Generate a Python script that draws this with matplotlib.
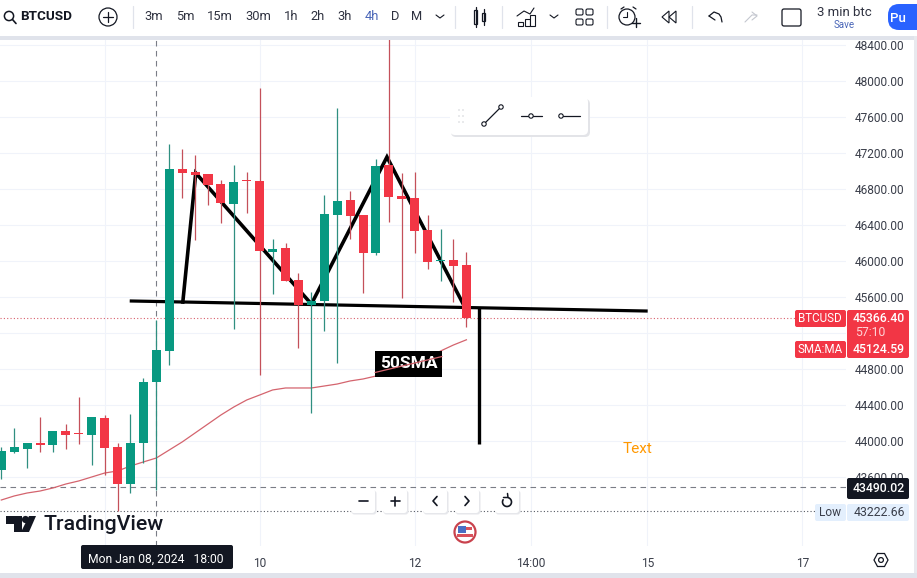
import matplotlib
matplotlib.use("Agg")
import matplotlib.pyplot as plt
from matplotlib.patches import Rectangle, FancyBboxPatch, Circle, Polygon
import numpy as np

plt.rcParams['font.family'] = ['Roboto', 'DejaVu Sans']

bar_index = list(range(-20, 17))
opens = [43678,43878,43911,43978,43956,44111,44089,44067,44256,43933,43522,43978,44656,45000,47022,46989,46967,46856,46633,46900,46889,46100,46144,45789,45511,45556,46511,46678,46511,46089,47067,46722,46700,46344,46000,46011,45956]
highs = [43933,44144,43978,44267,44111,44189,44489,44267,44289,43978,44300,44700,45344,47300,47244,47178,46967,46900,47067,46989,47922,46244,46200,45867,45656,46733,47700,46778,46511,47133,48470,46978,46989,46511,46356,46244,46100]
lows = [43578,43867,43700,43878,43878,43911,43967,43733,43622,43222.66,43422,43756,43456,44844,46700,46233,46622,46422,45244,46533,44733,45633,45778,45033,44311,45222,44867,46244,45644,46067,46433,45589,46089,45911,45778,45544,45267]
closes = [43889,43933,43978,43956,44111,44067,44078,44267,43922,43522,43978,44656,45011,47022,46978,46956,46844,46644,46878,46889,46111,46133,45778,45511,45556,46522,46667,46500,46089,47056,46711,46689,46333,45989,46011,45944,45366.40]
sma = [43344,43389,43422,43444,43478,43522,43556,43600,43644,43667,43722,43767,43811,43900,43989,44089,44189,44289,44378,44456,44511,44567,44589,44589,44589,44611,44633,44667,44689,44722,44767,44811,44856,44922,45000,45067,45124.59]

neck_x = [-10.06, 30.03]
neck_y = [45556, 45444]
zig_x = [-5.95, -4.95, 4.0, 9.85, 15.75]
zig_y = [45544, 46978, 45522, 47156, 45522]
target_x = [16.95, 16.95]
target_y = [45478, 43967]

price_ticks = list(range(43600, 48401, 400))
price_labels = ["" if p == 45200 else f"{p}.00" for p in price_ticks]
time_ticks = [-12, 0, 12, 21, 30, 42]
time_labels = ["", "10", "12", "14:00", "15", "17"]
last_price = 45366.40
cross_price = 43490.02
cross_bar = -8
low_price = 43222.66

W, H = 917, 578
fig = plt.figure(figsize=(W/100, H/100), dpi=100, facecolor='white')
L, T, R, B = 0, 40, 846, 546
ax = fig.add_axes([L/W, 1-B/H, (R-L)/W, (B-T)/H], facecolor='white')
ax.set_xlim(-20.1, 45.38)
ax.set_ylim(42833, 48456)
for s in ax.spines.values():
    s.set_visible(False)
ax.yaxis.tick_right()
ax.set_yticks(price_ticks, price_labels)
ax.set_xticks(time_ticks, time_labels)
ax.tick_params(axis='y', length=0, pad=6.5, labelsize=8.6, labelcolor='#3a3e4a')
ax.tick_params(axis='x', length=0, pad=8, labelsize=8.6, labelcolor='#3a3e4a')
ax.grid(True, color='#f0f3fa', lw=0.8)
ax.set_axisbelow(True)

GREEN, RED = '#089981', '#f23645'
colors = [GREEN if c >= o else RED for o, c in zip(opens, closes)]
wicks = ['#2f8f80' if c == GREEN else '#c4505a' for c in colors]

ax.plot(neck_x, neck_y, color='black', lw=2.3, zorder=2, solid_capstyle='butt')
ax.plot(zig_x, zig_y, color='black', lw=2.6, zorder=2, solid_joinstyle='miter')
ax.plot(target_x, target_y, color='black', lw=2.4, zorder=2, solid_capstyle='butt')
ax.axhline(last_price, color='#d8606c', lw=0.8, ls=(0, (1, 2)), zorder=1)
ax.axhline(cross_price, color='#7a7d86', lw=0.8, ls=(0, (5, 4)), zorder=1)
ax.axhline(low_price, color='#555963', lw=0.8, ls=(0, (1, 2)), zorder=1)
ax.axvline(cross_bar, color='#7a7d86', lw=0.8, ls=(0, (5, 4)), zorder=1)
ax.plot(bar_index, sma, color='#d4646e', lw=0.9, zorder=3)
ax.vlines(bar_index, lows, highs, colors=wicks, lw=0.9, zorder=4)
bottoms = [min(o, c) for o, c in zip(opens, closes)]
heights = [max(abs(o - c), 12) for o, c in zip(opens, closes)]
ax.bar(bar_index, heights, bottom=bottoms, width=0.7, color=colors, zorder=5)

# interface layer, in pixels
ov = fig.add_axes([0, 0, 1, 1], facecolor='none')
ov.set_xlim(0, W); ov.set_ylim(H, 0); ov.axis('off')

def rect(x0, y0, x1, y1, fc, ec='none', lw=0, z=6):
    ov.add_patch(Rectangle((x0, y0), x1-x0, y1-y0, fc=fc, ec=ec, lw=lw, zorder=z))

def rrect(x0, y0, x1, y1, r, fc, ec='none', lw=0, z=6):
    ov.add_patch(FancyBboxPatch((x0+r, y0+r), x1-x0-2*r, y1-y0-2*r, boxstyle=f"round,pad={r},rounding_size={r}",
                                fc=fc, ec=ec, lw=lw, zorder=z))

def txt(x, y, s, size=8.5, color='#131722', ha='center', weight='normal', z=8, **kw):
    ov.text(x, y, s, fontsize=size, color=color, ha=ha, va='center', fontweight=weight, zorder=z, **kw)

def ln(xs, ys, color='#131722', lw=0.9, z=7, **kw):
    ov.plot(xs, ys, color=color, lw=lw, zorder=z, solid_capstyle='round', **kw)

# frame
rect(0, 0, W, 36, 'white')
rect(0, 36, W, 40, '#e0e3eb')
rect(914, 36, W, H, '#e8e9ee')
rect(0, 573, W, H, '#e0e3eb')

# toolbar
ov.add_patch(Circle((9, 16), 4.6, fc='none', ec='#131722', lw=1.1, zorder=7))
ln([12.5, 16], [19.5, 23.5], lw=1.2)
txt(20, 17, 'BTCUSD', size=9.7, ha='left', weight='bold')
ov.add_patch(Circle((108, 17), 9, fc='none', ec='#131722', lw=0.9, zorder=7))
ln([103, 113], [17, 17]); ln([108, 108], [12, 22])
ln([132.5, 132.5], [6, 28], color='#e0e3eb')
tfs = [('3m',154),('5m',185),('15m',220),('30m',258),('1h',291),('2h',318),('3h',345),('4h',372),('D',395),('M',417)]
for s, x in tfs:
    txt(x, 17, s, size=9.3, color='#4a66b8' if s == '4h' else '#2f3240')
ln([436, 440, 444], [15, 18, 15], lw=0.8)
ln([455, 455], [6, 28], color='#e0e3eb')
# candle style icon
rect(474, 10, 477, 24, 'white', '#131722', 0.9, z=7); ln([475.5, 475.5], [7, 27])
rect(482, 13, 485, 21, 'white', '#131722', 0.9, z=7); ln([483.5, 483.5], [9, 25])
ln([501.5, 501.5], [6, 28], color='#e0e3eb')
# indicators icon
ln([517, 524, 530, 534], [16, 11, 14, 8], lw=0.8)
for x0, y0 in [(518, 22), (525, 19), (530, 15)]:
    rect(x0, y0, x0+5, 26, 'white', '#131722', 0.8, z=7)
ln([550, 554, 558], [15, 18, 15], lw=0.8)
for x0, y0 in [(576, 9), (586, 9), (576, 19), (586, 19)]:
    rrect(x0, y0, x0+7, y0+6, 1.5, 'white', '#131722', 0.8, z=7)
ln([606.5, 606.5], [6, 28], color='#e0e3eb')
# alarm, replay
ov.add_patch(Circle((627, 17), 8, fc='none', ec='#131722', lw=0.9, zorder=7))
ln([627, 627, 623], [12, 17, 17], lw=0.8)
ln([621, 624], [9, 7]); ln([633, 636], [7, 9])
rect(631, 17, 640, 29, 'white', z=6.9)
ln([632, 640], [22.5, 22.5], lw=1); ln([636, 636], [18, 27], lw=1)
ov.add_patch(Polygon([[669, 11], [662, 17], [669, 23]], fc='none', ec='#131722', lw=0.8, zorder=7))
ov.add_patch(Polygon([[676, 11], [669, 17], [676, 23]], fc='none', ec='#131722', lw=0.8, zorder=7))
ln([691.5, 691.5], [6, 28], color='#e0e3eb')
# undo, redo, layout
ln([709, 714, 719, 721, 722], [16, 12, 14, 17, 22], lw=0.9); ln([709, 715], [16, 20], lw=0.9)
ln([745, 752, 757], [22, 15, 15], color='#c4c7cf', lw=0.8); ln([752, 757, 752], [12, 16, 20], color='#c4c7cf', lw=0.8)
rrect(782, 9, 801, 26, 2, 'white', '#131722', 0.9, z=7)
txt(844, 13, '3 min btc', size=9.5, color='#2f3240')
txt(844, 25, 'Save', size=7, color='#4a66b8')
rrect(888, 4, 930, 30, 11, '#2962ff', z=6.5)
txt(890, 18, 'Pu', size=9.5, color='white', ha='left', weight='medium')

# floating drawing toolbar
rrect(451, 99, 590, 137, 5, '#e3e4e8', z=6)
rrect(450, 97, 588, 135, 5, 'white', z=6.2)
for yy in (110, 116, 122):
    for xx in (459, 463):
        ov.add_patch(Circle((xx, yy), 0.7, fc='#c7c9d0', ec='none', zorder=7))
def node(x, y):
    ov.add_patch(Circle((x, y), 2.2, fc='white', ec='#131722', lw=0.8, zorder=8))
ln([484, 501], [124, 107]); node(484, 124); node(501, 107)
ln([521, 542], [116, 116]); node(531, 116)
ln([559, 580], [116, 116]); node(561, 116)

# price labels
rrect(795, 310, 846, 327, 2, RED)
rrect(795, 341, 846, 358, 2, RED)
rrect(847, 310, 909, 358, 2, RED)
txt(820, 318.5, 'BTCUSD', size=8.4, color='white')
txt(820, 349.5, 'SMA:MA', size=8.4, color='white')
txt(879, 318.5, f"{last_price:.2f}", size=8.8, color='white', weight='medium')
txt(855, 333, '57:10', size=8.8, color='#ffd3d7', ha='left')
txt(879, 349.5, f"{sma[-1]:.2f}", size=8.8, color='white', weight='medium')
rrect(847, 478, 909, 499, 2, '#131722')
txt(879, 489, f"{cross_price:.2f}", size=8.8, color='white', weight='medium')
rrect(815, 504, 846, 521, 2, '#e3effd')
rrect(847, 504, 909, 521, 2, '#e3effd')
txt(830, 512.5, 'Low', size=8.6, color='#3a3e4a')
txt(879, 512.5, f"{low_price:.2f}", size=8.8, color='#3a3e4a')

# settings icon
ov.add_patch(Polygon([[874, 560], [877.5, 553.5], [884.5, 553.5], [888, 560], [884.5, 566.5], [877.5, 566.5]],
                     fc='none', ec='#131722', lw=0.9, zorder=7))
ov.add_patch(Circle((881, 560), 2.4, fc='none', ec='#131722', lw=0.9, zorder=7))

# annotations on the chart
rect(375, 351, 442, 377, 'black')
txt(408.5, 364, '50SMA', size=12.5, color='white', weight='bold')
ln([375, 442], [372.5, 356.5], color='#d4646e', lw=0.9, z=9)
txt(638, 449, 'Text', size=11, color='#ff9800')

# date label
rrect(81, 545, 233, 569, 2, '#131722')
txt(156, 559, 'Mon Jan 08, 2024   18:00', size=8.7, color='white')

# TradingView logo
ov.add_patch(Polygon([[6, 516], [22, 516], [22, 532], [14, 532], [14, 524], [6, 524]], fc='#131722', ec='none', zorder=7))
ov.add_patch(Circle((25.5, 519.5), 3.6, fc='#131722', ec='none', zorder=7))
ov.add_patch(Polygon([[29, 516], [36, 516], [29, 532], [21, 532]], fc='#131722', ec='none', zorder=7))
txt(44, 524.5, 'TradingView', size=15.4, ha='left', weight='medium')

# navigation buttons
for x, kind in [(363, 'minus'), (395, 'plus'), (435, 'lt'), (467, 'gt'), (507, 'reset')]:
    rrect(351.5+x-363, 490.5, 376.5+x-363, 514.5, 3, '#e6e7eb', z=6)
    rrect(351+x-363, 489, 375+x-363, 513, 3, 'white', z=6.2)
    if kind in ('minus', 'plus'):
        ln([x-4.5, x+4.5], [501, 501], lw=1.2)
    if kind == 'plus':
        ln([x, x], [496.5, 505.5], lw=1.2)
    if kind == 'lt':
        ln([x+2, x-2, x+2], [496.5, 501, 505.5], lw=1.2)
    if kind == 'gt':
        ln([x-2, x+2, x-2], [496.5, 501, 505.5], lw=1.2)
    if kind == 'reset':
        t = np.radians(np.linspace(-70, 210, 30))
        ln(x+4.5*np.cos(t), 502+4.5*np.sin(t), lw=1.2)
        ln([x-3.5, x+1, x+0.5], [497.5, 497.5, 493.5], lw=1.1)

# flag
ov.add_patch(Circle((465, 532), 10.5, fc='white', ec='#c9424d', lw=1.6, zorder=7))
rect(459, 527, 472, 530, '#d9525c', z=7.2)
rect(457, 534, 473, 537, '#d9525c', z=7.2)
rect(458, 526, 466, 533, '#4a6fc4', z=7.3)

fig.savefig('out.png', dpi=100, facecolor='white')
